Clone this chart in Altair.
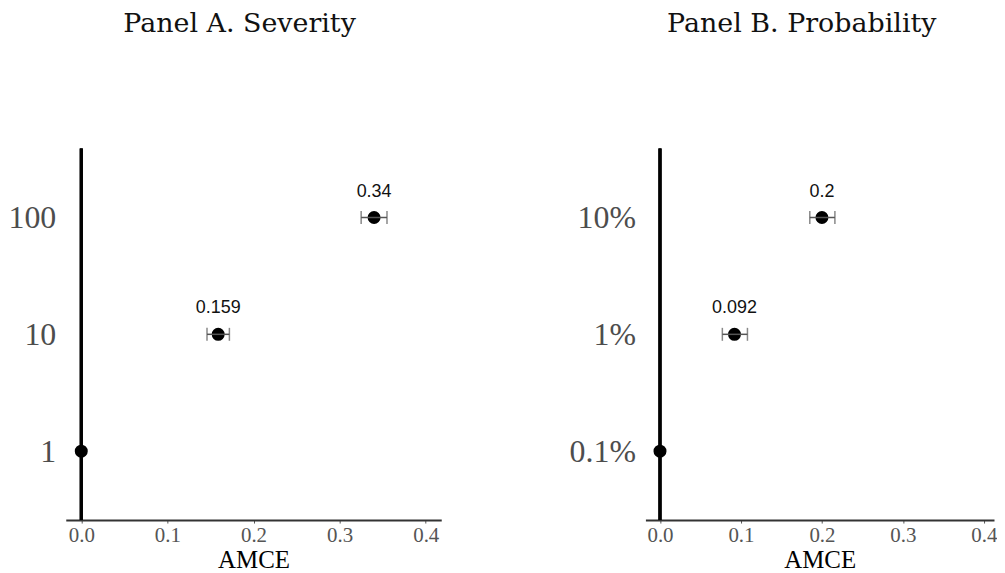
import altair as alt
import pandas as pd

# Panel A: Severity
sev_levels = ["100", "10", "1"]
sev_est = [0.34, 0.159, 0.0]
sev_lo = [0.325, 0.146, 0.0]
sev_hi = [0.355, 0.172, 0.0]
sev_lab = ["0.34", "0.159", ""]

# Panel B: Probability
prob_levels = ["10%", "1%", "0.1%"]
prob_est = [0.2, 0.092, 0.0]
prob_lo = [0.185, 0.077, 0.0]
prob_hi = [0.216, 0.108, 0.0]
prob_lab = ["0.2", "0.092", ""]

x_ticks = [0.0, 0.1, 0.2, 0.3, 0.4]

SERIF = "Liberation Serif"
GRAY = "#555555"


def panel(title, levels, est, lo, hi, lab, width, xmax, dx):
    df = pd.DataFrame({"level": levels, "est": est, "lo": lo, "hi": hi, "lab": lab})
    ysc = alt.Scale(type="point", padding=0.59)
    y = alt.Y("level:N", sort=levels, scale=ysc,
              axis=alt.Axis(title=None, domain=False, ticks=False, labelFont=SERIF,
                            labelFontSize=32, labelColor="#4d4d4d", labelPadding=10))
    xsc = alt.Scale(domain=[-0.018, xmax], nice=False, zero=False)
    x = alt.X("est:Q", scale=xsc,
              axis=alt.Axis(title="AMCE", titleFont=SERIF, titleFontSize=25,
                            titleFontWeight="normal", titleColor="black", titlePadding=2,
                            values=x_ticks, format=".1f", labelFont=SERIF, labelFontSize=21,
                            labelColor=GRAY, grid=False, domainColor="#333333",
                            domainWidth=2, tickColor=GRAY, tickSize=3, labelPadding=2))
    base = alt.Chart(df)
    vline = base.mark_rule(color="black", strokeWidth=3).encode(x=alt.datum(0))
    ci = df[df["hi"] > df["lo"]]
    cib = alt.Chart(ci)
    bars = cib.mark_rule(color=GRAY, strokeWidth=1.5).encode(
        x=alt.X("lo:Q"), x2="hi:Q", y=alt.Y("level:N", sort=levels))
    caps_lo = cib.mark_tick(color=GRAY, thickness=1.5, size=13, orient="vertical").encode(
        x="lo:Q", y=alt.Y("level:N", sort=levels))
    caps_hi = cib.mark_tick(color=GRAY, thickness=1.5, size=13, orient="vertical").encode(
        x="hi:Q", y=alt.Y("level:N", sort=levels))
    pts = base.mark_circle(color="black", opacity=1, size=170).encode(x=x, y=y)
    txt = base.mark_text(font="Liberation Sans", fontSize=18, dy=-26, color="#111111").encode(
        x="est:Q", y=alt.Y("level:N", sort=levels), text="lab:N")
    return alt.layer(vline, pts, bars, caps_lo, caps_hi, txt).properties(
        width=width, height=373,
        title=alt.TitleParams(title, font="DejaVu Serif", fontSize=27, fontWeight="normal",
                              color="#111111", anchor="middle", frame="group",
                              offset=110, dx=dx))


a = panel("Panel A. Severity", sev_levels, sev_est, sev_lo, sev_hi, sev_lab, 377, 0.418, -14)
b = panel("Panel B. Probability", prob_levels, prob_est, prob_lo, prob_hi, prob_lab, 350, 0.4125, -18)

chart = alt.hconcat(a, b, spacing=128).properties(
    padding={"left": 0, "top": 0, "right": 0, "bottom": 0}
).configure_view(stroke=None)
chart.save("out.html", embed_options={"renderer": "svg", "actions": False})
